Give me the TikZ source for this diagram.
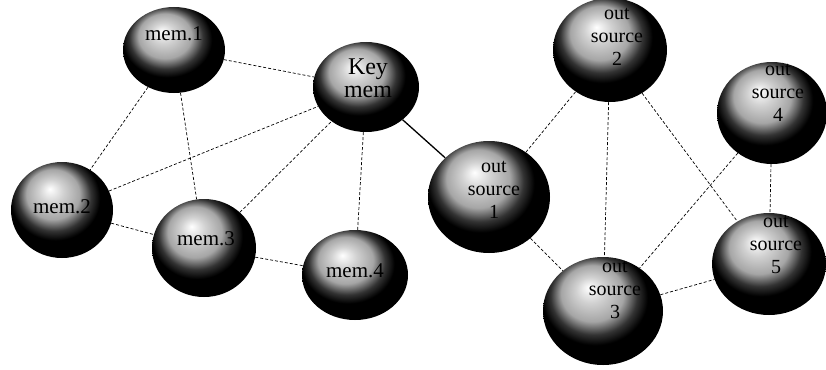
\documentclass[tikz,border=0pt]{standalone}
\usepackage{fontspec}
\setmainfont{Liberation Serif}
\usetikzlibrary{shapes.geometric}
% light from the top left, dark lower right
\pgfdeclareradialshading{globe}{\pgfqpoint{-6bp}{11bp}}{%
  color(0bp)=(white); color(6bp)=(white!82!black); color(13bp)=(gray!70);
  color(18bp)=(black!80); color(22bp)=(black); color(50bp)=(black)}
\begin{document}
\begin{tikzpicture}[x=1pt,y=-1pt,
  globe/.style={ellipse,shading=globe,inner sep=0pt},
  tag/.style={font=\fontsize{21}{23}\selectfont,align=center,inner sep=0pt},
  srctag/.style={font=\fontsize{20}{23}\selectfont,align=center,inner sep=0pt},
  link/.style={densely dashed,line width=0.7pt}]
\useasboundingbox (0,0) rectangle (826,369);
% members
\node[globe,minimum width=102,minimum height=86,label={[tag,yshift=16]center:mem.1}] (mem1) at (174,50) {};
\node[globe,minimum width=106,minimum height=90,label={[tag,font=\fontsize{24}{23}\selectfont,yshift=9,xshift=2]center:Key\\mem}] (key) at (366,87) {};
\node[globe,minimum width=102,minimum height=96,label={[tag,yshift=3]center:mem.2}] (mem2) at (62,210) {};
\node[globe,minimum width=104,minimum height=98,label={[tag,yshift=9,xshift=2]center:mem.3}] (mem3) at (204,248) {};
\node[globe,minimum width=106,minimum height=90,label={[tag,yshift=4]center:mem.4}] (mem4) at (355,275) {};
% out sources
\node[globe,minimum width=122,minimum height=112,label={[srctag,xshift=5,yshift=7]center:out\\source\\1}] (src1) at (489,197) {};
\node[globe,minimum width=114,minimum height=104,label={[srctag,xshift=7,yshift=13]center:out\\source\\2}] (src2) at (610,50) {};
\node[globe,minimum width=120,minimum height=108,label={[srctag,xshift=12,yshift=21]center:out\\source\\3}] (src3) at (603,311) {};
\node[globe,minimum width=110,minimum height=102,label={[srctag,xshift=6,yshift=20]center:out\\source\\4}] (src4) at (772,113) {};
\node[globe,minimum width=114,minimum height=102,label={[srctag,xshift=7,yshift=19]center:out\\source\\5}] (src5) at (769,264) {};
% links
\draw[link] (mem1) -- (key);
\draw[link] (mem1) -- (mem2);
\draw[link] (mem1) -- (mem3);
\draw[link] (mem2) -- (key);
\draw[link] (mem2) -- (mem3);
\draw[link] (mem3) -- (key);
\draw[link] (mem3) -- (mem4);
\draw[link] (key) -- (mem4);
\draw[line width=1.3pt] (key) -- (src1);
\draw[link] (src1) -- (src2);
\draw[link] (src1) -- (src3);
\draw[link] (src2) -- (src3);
\draw[link] (src2) -- (src5);
\draw[link] (src4) -- (src3);
\draw[link] (src4) -- (src5);
\draw[link] (src3) -- (src5);
\end{tikzpicture}
\end{document}
